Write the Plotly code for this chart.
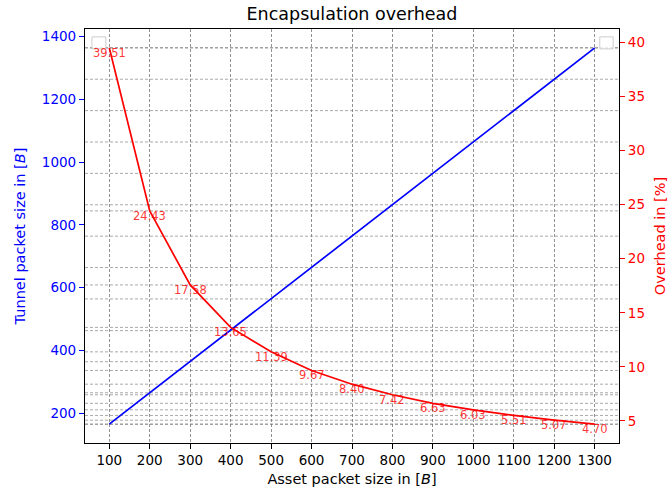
import plotly.graph_objects as go

asset_sizes = [100, 200, 300, 400, 500, 600, 700, 800, 900, 1000, 1100, 1200, 1300]
tunnel_sizes = [165, 265, 364, 463, 564, 664, 764, 864, 964, 1064, 1164, 1264, 1364]
overhead_pct = [39.51, 24.43, 17.58, 13.65, 11.39, 9.67, 8.40, 7.42, 6.63, 6.03, 5.51, 5.07, 4.70]
left_ticks = [200, 400, 600, 800, 1000, 1200, 1400]
right_ticks = [5, 10, 15, 20, 25, 30, 35, 40]

FONT = "DejaVu Sans"
BLUE = "#0000ff"
RED = "#ff0000"
GRID = "rgba(110,110,110,0.75)"

fig = go.Figure()
fig.add_trace(go.Scatter(x=asset_sizes, y=tunnel_sizes, mode="lines",
                         line=dict(color=BLUE, width=1.7), yaxis="y", showlegend=False))
fig.add_trace(go.Scatter(x=asset_sizes, y=overhead_pct, mode="lines",
                         line=dict(color=RED, width=1.7), yaxis="y2", showlegend=False))

shapes = []
for v in tunnel_sizes:
    shapes.append(dict(type="line", xref="paper", x0=0, x1=1, yref="y", y0=v, y1=v,
                       line=dict(color=GRID, width=0.8, dash="3px,2px"), layer="below"))
for v in overhead_pct:
    shapes.append(dict(type="line", xref="paper", x0=0, x1=1, yref="y2", y0=v, y1=v,
                       line=dict(color=GRID, width=0.8, dash="3px,2px"), layer="below"))
# empty legend boxes
for x0, x1 in [(0.013, 0.039), (0.964, 0.989)]:
    shapes.append(dict(type="rect", xref="paper", yref="paper", x0=x0, x1=x1, y0=0.952, y1=0.981,
                       line=dict(color="rgba(200,200,200,0.9)", width=1), fillcolor="rgba(255,255,255,0.8)"))

annotations = []
for x, v in zip(asset_sizes, overhead_pct):
    annotations.append(dict(x=x, y=v, xref="x", yref="y2", text=f"{v:.2f}", showarrow=False,
                            xanchor="center", yanchor="middle", yshift=-5,
                            font=dict(family=FONT, size=11.5, color="rgba(255,0,0,0.8)")))

fig.update_layout(
    width=668, height=495,
    margin=dict(l=85, r=49, t=29, b=52),
    paper_bgcolor="white", plot_bgcolor="white",
    font=dict(family=FONT, size=13.5, color="black"),
    title=dict(text="Encapsulation overhead", x=(85 + 267) / 668, xanchor="center",
               y=0.972, yanchor="middle", font=dict(size=17.5, color="black")),
    shapes=shapes, annotations=annotations,
    xaxis=dict(range=[40, 1360], tickvals=asset_sizes, showgrid=True, gridcolor=GRID,
               gridwidth=0.8, griddash="3px,2px", zeroline=False, showline=True, linecolor="black",
               linewidth=1.2, mirror=True, ticks="outside", ticklen=5, tickcolor="black",
               automargin=False,
               title=dict(text="Asset packet size in [<i>B</i>]", font=dict(size=14.5), standoff=6)),
    yaxis=dict(range=[105, 1424], tickvals=left_ticks, showgrid=False, zeroline=False,
               showline=True, linecolor="black", linewidth=1.2, ticks="outside", ticklen=5,
               tickcolor=BLUE, tickfont=dict(color=BLUE), automargin=False,
               title=dict(text="Tunnel packet size in [<i>B</i>]", font=dict(size=14.5, color=BLUE), standoff=12)),
    yaxis2=dict(range=[2.96, 41.25], tickvals=right_ticks, overlaying="y", side="right",
                showgrid=False, zeroline=False, showline=True, linecolor="black", linewidth=1.2,
                ticks="outside", ticklen=5, tickcolor=RED, tickfont=dict(color=RED), automargin=False,
                title=dict(text="Overhead in [%]", font=dict(size=14.5, color=RED), standoff=16)),
)

fig.write_html("out.html")
